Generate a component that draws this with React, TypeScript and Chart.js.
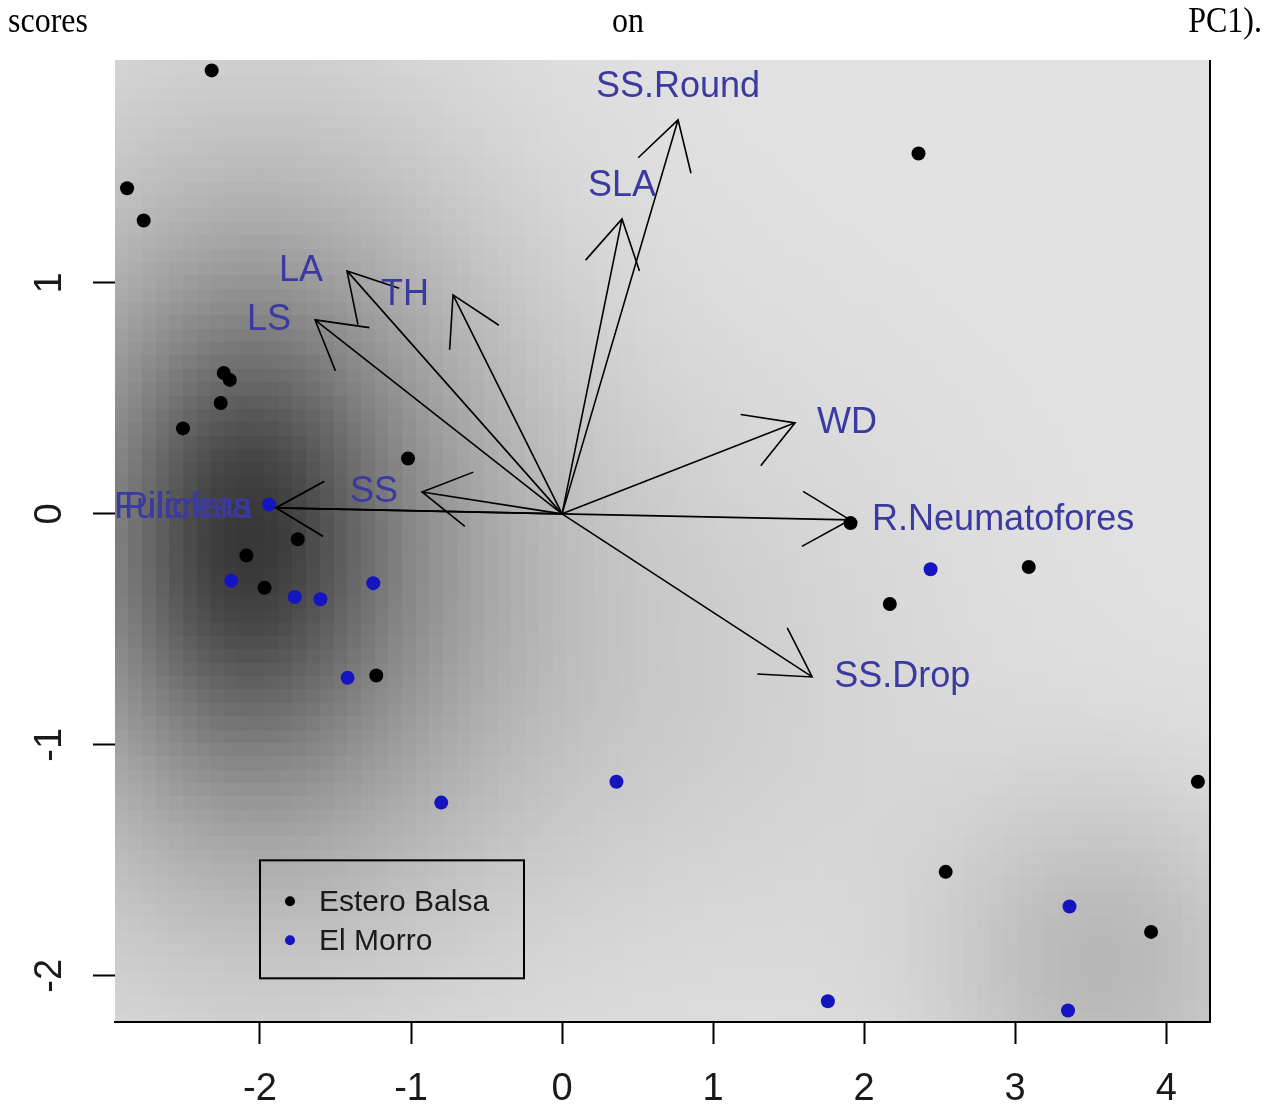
import React, { useEffect, useRef } from "react";
import { Chart, registerables } from "chart.js";

Chart.register(...registerables);

// ---- caption text above the figure ----
const captionWords = ["scores", "on", "PC1)."];

// ---- axes ----
const xMin = -2.96;
const xMax = 4.29;
const yMin = -2.2;
const yMax = 1.965;

// ---- site scores ----
const legendLabels = ["Estero Balsa", "El Morro"];
const esteroX = [-2.32, -2.88, -2.77, -2.24, -2.2, -2.26, -2.51, -1.02, -1.75, -2.09, -1.97, -1.23, 2.36, 1.91, 3.09, 2.17, 4.21, 2.54, 3.9];
const esteroY = [1.92, 1.41, 1.27, 0.61, 0.58, 0.48, 0.37, 0.24, -0.11, -0.18, -0.32, -0.7, 1.56, -0.04, -0.23, -0.39, -1.16, -1.55, -1.81];
const morroX = [-1.94, -2.19, -1.77, -1.6, -1.25, -1.42, -0.8, 0.36, 2.44, 3.36, 1.76, 3.35];
const morroY = [0.04, -0.29, -0.36, -0.37, -0.3, -0.71, -1.25, -1.16, -0.24, -1.7, -2.11, -2.15];

// ---- trait loadings (arrows) ----
const arrowLabels = ["SS.Round", "SLA", "LA", "TH", "LS", "WD", "R.Neumatofores", "SS.Drop", "SS", "R.Fulcreas", "Pilicfera"];
const arrowX = [0.768, 0.397, -1.424, -0.722, -1.636, 1.543, 1.907, 1.656, -0.927, -1.894, -1.894];
const arrowY = [1.706, 1.277, 1.052, 0.948, 0.84, 0.394, -0.026, -0.706, 0.095, 0.026, 0.026];
const labelSide = ["top", "top", "left", "left", "left", "right", "right", "right", "left", "left", "left"];

// ---- legend anchor (data coordinates, top-left corner) ----
const legendX = -2.0;
const legendY = -1.5;

// ---- density background blobs ----
const densityBase = 226;
const blobX = [-2.1, -2.0, 3.6, 0.8];
const blobY = [-0.1, -0.1, -1.95, -0.7];
const blobSx = [0.55, 1.2, 0.8, 1.3];
const blobSy = [0.6, 1.1, 0.55, 0.9];
const blobDepth = [60, 110, 42, 18];
const gridCols = 80;
const gridRows = 72;

const SANS = '"Liberation Sans", Arial, sans-serif';
const LABEL_COLOR = "#3a3aa0";
const BLUE = "#1414c0";

function shade(x: number, y: number) {
  let g = densityBase;
  for (let k = 0; k < blobX.length; k++) {
    const dx = (x - blobX[k]) / blobSx[k];
    const dy = (y - blobY[k]) / blobSy[k];
    g -= blobDepth[k] * Math.exp(-(dx * dx + dy * dy) / 2);
  }
  g = Math.max(0, Math.min(255, Math.round(g)));
  return `rgb(${g},${g},${g})`;
}

const heatmapPlugin = {
  id: "heatmap",
  beforeDraw(chart: any) {
    const { ctx, chartArea: a, scales } = chart;
    const xs = scales.x;
    const ys = scales.y;
    ctx.save();
    ctx.beginPath();
    ctx.rect(a.left, a.top, a.right - a.left, a.bottom - a.top);
    ctx.clip();
    const dx = (xMax - xMin) / gridCols;
    const dy = (yMax - yMin) / gridRows;
    for (let i = 0; i < gridCols; i++) {
      const x0 = xs.getPixelForValue(xMin + i * dx);
      const x1 = xs.getPixelForValue(xMin + (i + 1) * dx);
      for (let j = 0; j < gridRows; j++) {
        const y0 = ys.getPixelForValue(yMin + j * dy);
        const y1 = ys.getPixelForValue(yMin + (j + 1) * dy);
        ctx.fillStyle = shade(xMin + (i + 0.5) * dx, yMin + (j + 0.5) * dy);
        const left = Math.floor(x0);
        const top = Math.floor(y1);
        ctx.fillRect(left, top, Math.ceil(x1) - left + 1, Math.ceil(y0) - top + 1);
      }
    }
    ctx.restore();
  },
};

function drawArrow(ctx: CanvasRenderingContext2D, x0: number, y0: number, x1: number, y1: number) {
  const ang = Math.atan2(y1 - y0, x1 - x0);
  const len = 55;
  const spread = Math.PI / 6;
  ctx.beginPath();
  ctx.moveTo(x0, y0);
  ctx.lineTo(x1, y1);
  ctx.moveTo(x1 - len * Math.cos(ang - spread), y1 - len * Math.sin(ang - spread));
  ctx.lineTo(x1, y1);
  ctx.lineTo(x1 - len * Math.cos(ang + spread), y1 - len * Math.sin(ang + spread));
  ctx.stroke();
}

const overlayPlugin = {
  id: "overlay",
  afterDatasetsDraw(chart: any) {
    const { ctx, chartArea: a, scales } = chart;
    const xs = scales.x;
    const ys = scales.y;
    ctx.save();
    ctx.beginPath();
    ctx.rect(a.left, a.top, a.right - a.left, a.bottom - a.top);
    ctx.clip();

    // arrows
    const ox = xs.getPixelForValue(0);
    const oy = ys.getPixelForValue(0);
    ctx.strokeStyle = "#000";
    ctx.lineWidth = 1.6;
    for (let k = 0; k < arrowX.length; k++) {
      drawArrow(ctx, ox, oy, xs.getPixelForValue(arrowX[k]), ys.getPixelForValue(arrowY[k]));
    }

    // arrow labels
    ctx.font = `36px ${SANS}`;
    ctx.fillStyle = LABEL_COLOR;
    ctx.textBaseline = "middle";
    for (let k = 0; k < arrowX.length; k++) {
      const px = xs.getPixelForValue(arrowX[k]);
      const py = ys.getPixelForValue(arrowY[k]);
      const side = labelSide[k];
      if (side === "top") {
        ctx.textAlign = "center";
        ctx.fillText(arrowLabels[k], px, py - 33);
      } else if (side === "left") {
        ctx.textAlign = "right";
        ctx.fillText(arrowLabels[k], px - 24, py);
      } else {
        ctx.textAlign = "left";
        ctx.fillText(arrowLabels[k], px + 22, py);
      }
    }

    // legend box
    const lx = xs.getPixelForValue(legendX);
    const ly = ys.getPixelForValue(legendY);
    const lw = 264;
    const lh = 118;
    ctx.strokeStyle = "#000";
    ctx.lineWidth = 2;
    ctx.strokeRect(lx, ly, lw, lh);
    const colors = ["#000", BLUE];
    ctx.font = `30px ${SANS}`;
    ctx.textAlign = "left";
    ctx.textBaseline = "middle";
    for (let k = 0; k < legendLabels.length; k++) {
      const cy = ly + 41 + k * 39;
      ctx.fillStyle = colors[k];
      ctx.beginPath();
      ctx.arc(lx + 30, cy, 5, 0, Math.PI * 2);
      ctx.fill();
      ctx.fillStyle = "#1a1a1a";
      ctx.fillText(legendLabels[k], lx + 59, cy + 1);
    }
    ctx.restore();

    // right frame line
    ctx.save();
    ctx.strokeStyle = "#000";
    ctx.lineWidth = 2;
    ctx.beginPath();
    ctx.moveTo(a.right, a.top);
    ctx.lineTo(a.right, a.bottom);
    ctx.stroke();
    ctx.restore();
  },
};

export default function App() {
  const ref = useRef<HTMLCanvasElement>(null);

  useEffect(() => {
    const canvas = ref.current;
    if (!canvas) return;
    const chart = new Chart(canvas, {
      type: "scatter",
      data: {
        datasets: [
          {
            label: legendLabels[0],
            data: esteroX.map((x, i) => ({ x, y: esteroY[i] })),
            backgroundColor: "#000",
            borderColor: "#000",
            pointRadius: 7,
            borderWidth: 0,
          },
          {
            label: legendLabels[1],
            data: morroX.map((x, i) => ({ x, y: morroY[i] })),
            backgroundColor: BLUE,
            borderColor: BLUE,
            pointRadius: 7,
            borderWidth: 0,
          },
        ],
      },
      options: {
        responsive: false,
        animation: false,
        devicePixelRatio: 1,
        layout: { padding: { left: 0, right: 60, top: 60, bottom: 0 } },
        plugins: { legend: { display: false }, tooltip: { enabled: false } },
        scales: {
          x: {
            type: "linear",
            min: xMin,
            max: xMax,
            afterFit: (s: any) => {
              s.height = 85;
            },
            ticks: {
              stepSize: 1,
              includeBounds: false,
              maxRotation: 0,
              padding: 23,
              color: "#1a1a1a",
              font: { family: SANS, size: 38 },
            },
            grid: { drawOnChartArea: false, drawTicks: true, tickLength: 22, tickColor: "#000", tickWidth: 2 },
            border: { display: true, color: "#000", width: 2 },
          },
          y: {
            type: "linear",
            min: yMin,
            max: yMax,
            afterFit: (s: any) => {
              s.width = 115;
            },
            ticks: {
              stepSize: 1,
              includeBounds: false,
              minRotation: 90,
              maxRotation: 90,
              crossAlign: "center",
              padding: 26,
              color: "#1a1a1a",
              font: { family: SANS, size: 38 },
            },
            grid: { drawOnChartArea: false, drawTicks: true, tickLength: 22, tickColor: "#000", tickWidth: 2 },
            border: { display: false },
          },
        },
      },
      plugins: [heatmapPlugin, overlayPlugin],
    } as any);
    return () => chart.destroy();
  }, []);

  return (
    <div style={{ position: "fixed", left: 0, top: 0, width: 1270, height: 1107, background: "#fff" }}>
      <canvas ref={ref} width={1270} height={1107} style={{ position: "absolute", left: 0, top: 0, width: 1270, height: 1107 }} />
      <div
        style={{
          position: "absolute",
          left: 8,
          right: 8,
          top: 0,
          display: "flex",
          justifyContent: "space-between",
          fontFamily: '"Liberation Serif", "Times New Roman", serif',
          fontSize: 32,
          lineHeight: "36px",
          color: "#000",
          transform: "scaleY(1.15)",
          transformOrigin: "0 30%",
          whiteSpace: "nowrap",
        }}
      >
        <span>{captionWords[0]}</span>
        <span style={{ marginLeft: -20 }}>{captionWords[1]}</span>
        <span>{captionWords[2]}</span>
      </div>
    </div>
  );
}
